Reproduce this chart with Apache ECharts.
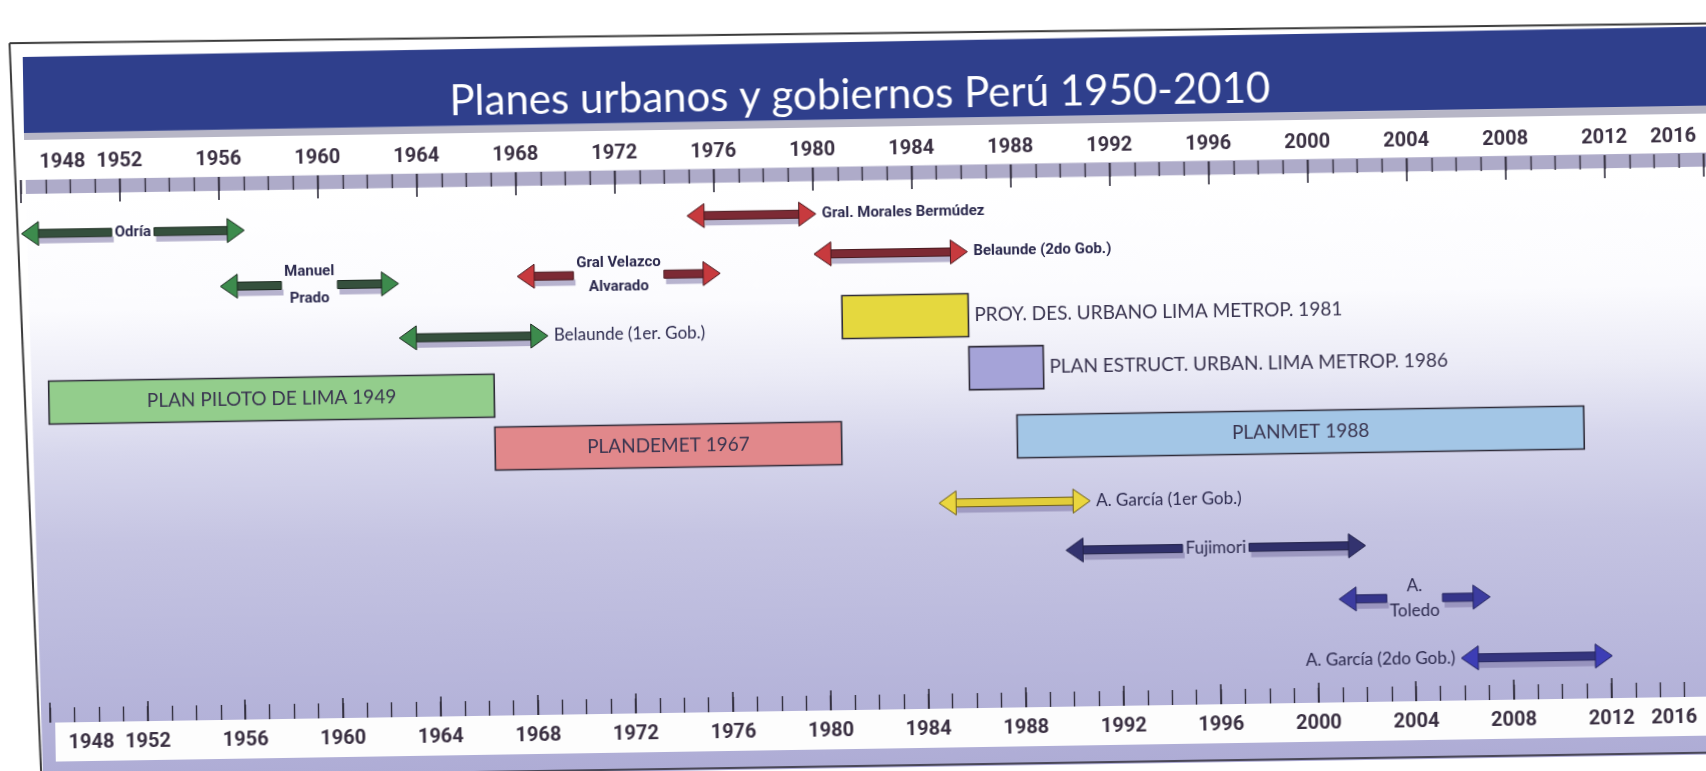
<!DOCTYPE html>
<html>
<head>
<meta charset="utf-8">
<script src="https://cdn.jsdelivr.net/npm/echarts@6/dist/echarts.min.js"></script>
<style>
html,body{margin:0;padding:0;width:1706px;height:771px;overflow:hidden;background:#ffffff;}
#chart{position:absolute;left:-20px;top:-15px;width:1746px;height:801px;transform:rotate(-0.9deg);transform-origin:50% 50%;}
</style>
</head>
<body>
<div id="chart"></div>
<script>
// ---------------- DATA ----------------
const titleText = 'Planes urbanos y gobiernos Perú 1950-2010';
const yearMin = 1948;
const yearMax = 2016;
const yearStep = 4;
const minorStep = 1;

// Governments (double arrows)
const govNames = ['Odría', 'Manuel\nPrado', 'Belaunde (1er. Gob.)', 'Gral Velazco\nAlvarado', 'Gral. Morales Bermúdez',
                  'Belaunde (2do Gob.)', 'A. García (1er Gob.)', 'Fujimori', 'A.\nToledo', 'A. García (2do Gob.)'];
const govStart = [1948.0, 1956.0, 1963.2, 1968.0, 1974.9, 1980.0, 1984.9, 1990.0, 2001.0, 2005.9];
const govEnd   = [1957.0, 1963.2, 1969.2, 1976.2, 1980.1, 1986.2, 1991.0, 2002.1, 2007.1, 2012.0];
const govRow   = [2.97, 6.05, 9.06, 5.76, 2.56, 4.78, 18.65, 21.36, 24.3, 27.66];

// Urban plans (boxes)
const planNames = ['PLAN PILOTO DE LIMA 1949', 'PLANDEMET 1967', 'PROY. DES. URBANO LIMA METROP. 1981',
                   'PLAN ESTRUCT. URBAN. LIMA METROP. 1986', 'PLANMET 1988'];
const planStart = [1949.0, 1967.0, 1981.1, 1986.2, 1988.1];
const planEnd   = [1967.0, 1981.0, 1986.2, 1989.2, 2011.0];
const planRow   = [12.32, 15.25, 8.29, 11.22, 15.03];

// ---------------- STYLE ----------------
const SQ  = "bold 15px Roboto, 'Noto Sans', sans-serif";
const REG = "17px Lato, 'Noto Sans', sans-serif";
const BOXF = "19px Lato, 'Noto Sans', sans-serif";
const AXF = "Roboto, 'Noto Sans', sans-serif";
const palettes = {
  green:  {shaft: '#35503d', head: '#3d8b4d', stroke: '#1d2b21'},
  red:    {shaft: '#7c2a34', head: '#c73a3e', stroke: '#4a1a20'},
  yellow: {shaft: '#e2cd3a', head: '#ead63e', stroke: '#6b5c18'},
  navy:   {shaft: '#30306a', head: '#33336f', stroke: '#22224a'},
  blue:   {shaft: '#35358a', head: '#3c3ca0', stroke: '#262660'},
  blue2:  {shaft: '#34347e', head: '#3d3db5', stroke: '#262660'}
};
const govLook = [
  {pal: 'green',  pos: 'mid',   font: SQ,  lh: 18},
  {pal: 'green',  pos: 'mid',   font: SQ,  lh: 27},
  {pal: 'green',  pos: 'right', font: REG, lh: 18},
  {pal: 'red',    pos: 'mid',   font: SQ,  lh: 24},
  {pal: 'red',    pos: 'right', font: SQ,  lh: 18},
  {pal: 'red',    pos: 'right', font: SQ,  lh: 18},
  {pal: 'yellow', pos: 'right', font: REG, lh: 18},
  {pal: 'navy',   pos: 'mid',   font: REG, lh: 18},
  {pal: 'blue',   pos: 'mid',   font: REG, lh: 25},
  {pal: 'blue2',  pos: 'left',  font: REG, lh: 18}
];
const planLook = [
  {fill: '#93cd8c', pos: 'in'},
  {fill: '#e1888b', pos: 'in'},
  {fill: '#e5d83e', pos: 'right'},
  {fill: '#a5a3d8', pos: 'right'},
  {fill: '#a3c6e6', pos: 'in'}
];

const mctx = document.createElement('canvas').getContext('2d');
function textW(t, font) {
  mctx.font = font;
  return Math.max.apply(null, String(t).split('\n').map(s => mctx.measureText(s).width));
}
// unrotated page coords -> chart coords
const OX = 20, OY = 15;
function P(x, y) { return [x + OX, y + OY]; }

const titleFs = Math.round(100 * 822 / textW(titleText, '100px Lato'));
const titleW = textW(titleText, titleFs + 'px Lato');

const LABEL_COLOR = '#2c2a4e';

function arrowItem(params, api) {
  const i = params.dataIndex;
  const s = api.coord([api.value(0), api.value(2)]);
  const e = api.coord([api.value(1), api.value(2)]);
  const y = s[1], x1 = s[0], x2 = e[0];
  const look = govLook[i];
  const pal = palettes[look.pal];
  const HL = 17, HH = 12, SH = 4;
  const children = [];
  const segs = [];
  const cx = (x1 + x2) / 2;
  if (look.pos === 'mid') {
    const w = textW(govNames[i], look.font) + 6;
    segs.push([x1 + HL - 1, cx - w / 2], [cx + w / 2, x2 - HL + 1]);
  } else {
    segs.push([x1 + HL - 1, x2 - HL + 1]);
  }
  segs.forEach(function (sg) {
    children.push({type: 'rect', shape: {x: sg[0] + 2, y: y + SH, width: sg[1] - sg[0], height: 6},
      style: {fill: 'rgba(125,118,165,0.55)'}});
  });
  segs.forEach(function (sg) {
    children.push({type: 'rect', shape: {x: sg[0], y: y - SH, width: sg[1] - sg[0], height: SH * 2},
      style: {fill: pal.shaft, stroke: pal.stroke, lineWidth: 1}});
  });
  children.push({type: 'polygon', shape: {points: [[x1, y], [x1 + HL, y - HH], [x1 + HL, y + HH]]},
    style: {fill: pal.head, stroke: pal.stroke, lineWidth: 1}});
  children.push({type: 'polygon', shape: {points: [[x2, y], [x2 - HL, y - HH], [x2 - HL, y + HH]]},
    style: {fill: pal.head, stroke: pal.stroke, lineWidth: 1}});
  let tx = cx, align = 'center';
  if (look.pos === 'right') { tx = x2 + 6; align = 'left'; }
  if (look.pos === 'left') { tx = x1 - 6; align = 'right'; }
  children.push({type: 'text', style: {text: govNames[i], x: tx, y: y, font: look.font, fill: LABEL_COLOR,
    align: align, verticalAlign: 'middle', lineHeight: look.lh}});
  return {type: 'group', children: children};
}

function boxItem(params, api) {
  const i = params.dataIndex;
  const s = api.coord([api.value(0), api.value(2)]);
  const e = api.coord([api.value(1), api.value(2)]);
  const H = 43;
  const look = planLook[i];
  const children = [
    {type: 'rect', shape: {x: s[0], y: s[1] - H / 2, width: e[0] - s[0], height: H},
      style: {fill: look.fill, stroke: '#2e2b38', lineWidth: 1.6}}
  ];
  if (look.pos === 'in') {
    children.push({type: 'text', style: {text: planNames[i], x: (s[0] + e[0]) / 2, y: s[1], font: BOXF,
      fill: '#3a3550', align: 'center', verticalAlign: 'middle'}});
  } else {
    children.push({type: 'text', style: {text: planNames[i], x: e[0] + 6, y: s[1], font: BOXF,
      fill: '#3a3550', align: 'left', verticalAlign: 'middle'}});
  }
  return {type: 'group', children: children};
}

const TICK_COLOR = '#33303f';
function majorAxis(gridIndex, position, tickLen, margin, padL, padR) {
  const base = {fontFamily: AXF, fontWeight: 'bold', fontSize: 20, color: '#3a3042'};
  return {
    type: 'value', gridIndex: gridIndex, position: position, min: yearMin, max: yearMax, interval: yearStep, z: 6,
    axisLine: {show: false, onZero: false},
    axisTick: {show: true, inside: true, length: tickLen, lineStyle: {color: TICK_COLOR, width: 1.6}},
    minorTick: {show: false},
    splitLine: {show: false},
    axisLabel: Object.assign({}, base, {
      margin: margin, showMinLabel: true, showMaxLabel: true, hideOverlap: false,
      alignMinLabel: 'left', alignMaxLabel: 'right',
      formatter: function (v) {
        if (v === yearMin) return '{a|' + v + '}';
        if (v === yearMax) return '{b|' + v + '}';
        return String(v);
      },
      rich: {a: Object.assign({}, base, {padding: [0, 0, 0, padL]}), b: Object.assign({}, base, {padding: [0, padR, 0, 0]})}
    })
  };
}
function minorAxis(gridIndex, position, tickLen) {
  return {
    type: 'value', gridIndex: gridIndex, position: position, min: yearMin, max: yearMax, interval: minorStep, z: 6,
    axisLine: {show: false, onZero: false},
    axisTick: {show: true, inside: true, length: tickLen, lineStyle: {color: TICK_COLOR, width: 1.4}},
    axisLabel: {show: false},
    splitLine: {show: false}
  };
}

const panelGrad = new echarts.graphic.LinearGradient(0, 0, 0, 1, [
  {offset: 0, color: '#ffffff'}, {offset: 0.2, color: '#fbfbfe'}, {offset: 0.33, color: '#ebebf6'},
  {offset: 0.45, color: '#d6d6ec'}, {offset: 0.6, color: '#c5c4e2'}, {offset: 0.8, color: '#b9b8dc'},
  {offset: 1, color: '#aeacd5'}
]);

const option = {
  animation: false,
  title: {
    text: titleText, left: Math.round(879 - titleW / 2), top: Math.round(110 - titleFs * 0.62),
    textStyle: {color: '#ffffff', fontFamily: 'Lato', fontWeight: 'normal', fontSize: titleFs}
  },
  graphic: {elements: [
    {type: 'polygon', z: 0, shape: {points: [P(29, 181), P(1730, 180), P(1730, 768), P(37, 768)]}, style: {fill: panelGrad}},
    {type: 'polygon', z: 0, shape: {points: [P(28, 44), P(1730, 40), P(1730, 119), P(28, 120)]}, style: {fill: '#2f3f8c'}},
    {type: 'polygon', z: 0, shape: {points: [P(28, 120), P(1730, 119), P(1730, 127), P(28, 127)]}, style: {fill: '#b7b6c6'}},
    {type: 'polygon', z: 0, shape: {points: [P(29, 167), P(1730, 166), P(1730, 180), P(29, 181)]}, style: {fill: '#aeabc9'}},
    {type: 'polygon', z: 0, shape: {points: [P(50, 710), P(1730, 710), P(1730, 749), P(50, 749)]}, style: {fill: '#fdfdfd'}},
    {type: 'polyline', z: 0, shape: {points: [P(37, 766), P(1730, 766)]}, style: {stroke: '#4a4858', lineWidth: 2}},
    {type: 'polyline', z: 0, shape: {points: [P(15, 30), P(1730, 37)]}, style: {stroke: '#3a3a3a', lineWidth: 2}},
    {type: 'polyline', z: 0, shape: {points: [P(15, 30), P(36, 790)]}, style: {stroke: '#3a3a3a', lineWidth: 2}}
  ]},
  grid: [
    {left: 44, right: 19, top: 182, bottom: 76},
    {left: 65, right: 22, top: 182, bottom: 76}
  ],
  xAxis: [
    majorAxis(0, 'top', 23, 7, 19, 7),
    minorAxis(0, 'top', 14),
    majorAxis(1, 'bottom', 20, 11, 18, 12),
    minorAxis(1, 'bottom', 15)
  ],
  yAxis: [
    {type: 'value', gridIndex: 0, min: 0, max: 30, inverse: true, show: false},
    {type: 'value', gridIndex: 1, min: 0, max: 30, inverse: true, show: false}
  ],
  series: [
    {type: 'custom', name: 'Planes', xAxisIndex: 0, yAxisIndex: 0, z: 3, clip: false,
      encode: {x: [0, 1], y: 2},
      data: planNames.map((n, i) => [planStart[i], planEnd[i], planRow[i]]),
      renderItem: boxItem},
    {type: 'custom', name: 'Gobiernos', xAxisIndex: 0, yAxisIndex: 0, z: 4, clip: false,
      encode: {x: [0, 1], y: 2},
      data: govNames.map((n, i) => [govStart[i], govEnd[i], govRow[i]]),
      renderItem: arrowItem}
  ]
};
const chart = echarts.init(document.getElementById('chart'));
chart.setOption(option);
</script>
</body>
</html>
